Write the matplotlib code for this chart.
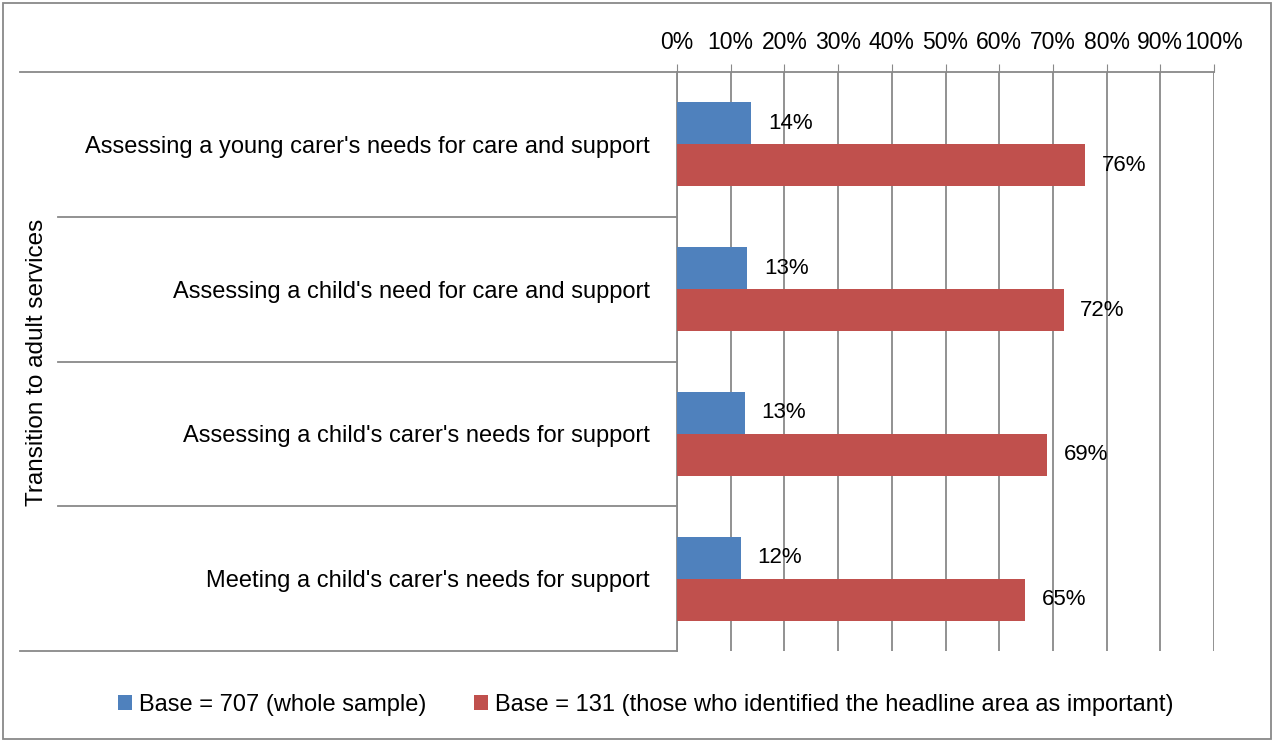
import matplotlib
matplotlib.use("Agg")
from matplotlib import pyplot as plt
from matplotlib.patches import Rectangle
import numpy as np

plt.rcParams['font.family'] = ['Liberation Sans', 'DejaVu Sans']

categories = [
    "Assessing a young carer's needs for care and support",
    "Assessing a child's need for care and support",
    "Assessing a child's carer's needs for support",
    "Meeting a child's carer's needs for support",
]
whole_sample = [13.8, 13.1, 12.6, 11.9]
headline_important = [76.0, 72.0, 68.9, 64.8]
series_names = ["Base = 707 (whole sample)",
                "Base = 131 (those who identified the headline area as important)"]
group_label = "Transition to adult services"
ticks = list(range(0, 101, 10))

blue = "#4F81BD"
red = "#C0504D"
grid = "#898989"

W, H = 1274, 740
fig = plt.figure(figsize=(W / 100, H / 100), dpi=100)
ax = fig.add_axes([677 / W, 1 - 651 / H, (1214 - 677) / W, (651 - 72) / H])

y = np.arange(len(categories)) + 0.5
h = 0.29
b1 = ax.barh(y - h / 2, whole_sample, height=h, color=blue, label=series_names[0], zorder=3)
b2 = ax.barh(y + h / 2, headline_important, height=h, color=red, label=series_names[1], zorder=3)
ax.bar_label(b1, labels=[f"{v:.0f}%" for v in whole_sample], padding=12, fontsize=16)
ax.bar_label(b2, labels=[f"{v:.0f}%" for v in headline_important], padding=12, fontsize=16)

ax.set_xlim(0, 100)
ax.set_ylim(len(categories), 0)
ax.set_xticks(ticks)
ax.set_xticklabels([f"{t}%" for t in ticks], fontsize=16.5)
ax.xaxis.tick_top()
ax.tick_params(axis='x', length=6, color=grid, pad=7)
ax.set_yticks([])
ax.grid(axis='x', color=grid, linewidth=1.3, zorder=0)
for s in ['right', 'bottom']:
    ax.spines[s].set_visible(False)
for s in ['left', 'top']:
    ax.spines[s].set_color(grid)
    ax.spines[s].set_linewidth(1.3)

# category separators to the left of the plot
tr = ax.get_yaxis_transform()
x_out = (20 - 677) / 537
x_in = (58 - 677) / 537
for k in range(len(categories) + 1):
    x0 = x_out if k in (0, len(categories)) else x_in
    ax.plot([x0, 0], [k, k], transform=tr, color=grid, linewidth=1.3, clip_on=False)

# category labels
for yi, name in zip(y, categories):
    ax.text((650 - 677) / 537, yi, name, transform=tr, ha='right', va='center_baseline', fontsize=17)

fig.text(37 / W, 1 - 362 / H, group_label, rotation=90, ha='center', va='center', fontsize=17.5)

fig.legend(loc='center', bbox_to_anchor=(646 / W, 1 - 705 / H), ncol=2, frameon=False,
           fontsize=17, handlelength=0.6, handleheight=0.6, handletextpad=0.3,
           columnspacing=2.0)

fig.patches.append(Rectangle((3 / W, 1 / H), (W - 6) / W, (H - 4) / H, transform=fig.transFigure,
                             fill=False, edgecolor=grid, linewidth=1.3))

fig.savefig("out.png", dpi=100)
